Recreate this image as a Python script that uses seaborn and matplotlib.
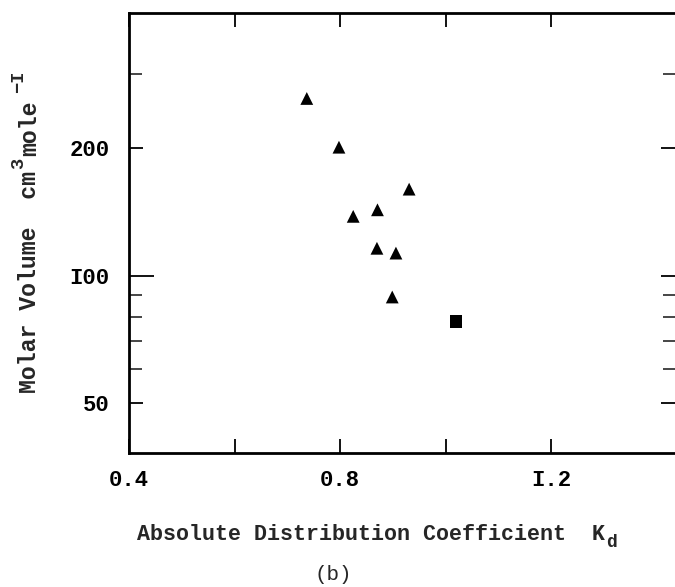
import matplotlib
matplotlib.use('Agg')
import matplotlib.pyplot as plt
import seaborn as sns
import pandas as pd
from matplotlib.ticker import FixedLocator, FixedFormatter, NullFormatter

# ---- data ----
kd_triangle = [0.737, 0.798, 0.931, 0.871, 0.825, 0.870, 0.906, 0.899]
vol_triangle = [262, 201, 160, 143, 138, 116, 113, 89]
kd_square = [1.020]
vol_square = [78]

x_tick_values = [0.4, 0.6, 0.8, 1.0, 1.2]
x_tick_labels = ['0.4', '', '0.8', '', 'I.2']
y_tick_values = [50, 100, 200]
y_tick_labels = ['50', 'I00', '200']
y_minor_values = [60, 70, 80, 90, 300]

df = pd.DataFrame({
    'kd': kd_triangle + kd_square,
    'vol': vol_triangle + vol_square,
    'group': ['tri'] * len(kd_triangle) + ['sq'] * len(kd_square),
})

sns.set_style('white')
plt.rcParams['font.family'] = ['Liberation Mono', 'DejaVu Sans Mono']
plt.rcParams['font.weight'] = 'bold'

W, H = 675, 587
fig = plt.figure(figsize=(W / 100, H / 100), dpi=100)
ax = fig.add_axes([129 / W, 1 - 453 / H, (675 - 129) / W, (453 - 13) / H])

sns.scatterplot(data=df, x='kd', y='vol', style='group',
                markers={'tri': '^', 'sq': 's'}, color='black',
                s=85, edgecolor='none', legend=False, ax=ax)

ax.set_yscale('log')
ax.set_xlim(0.4, 1.435)
ax.set_ylim(38.1, 417)

ax.xaxis.set_major_locator(FixedLocator(x_tick_values))
ax.xaxis.set_major_formatter(FixedFormatter(x_tick_labels))
ax.xaxis.set_minor_locator(FixedLocator([]))
ax.yaxis.set_major_locator(FixedLocator(y_tick_values))
ax.yaxis.set_major_formatter(FixedFormatter(y_tick_labels))
ax.yaxis.set_minor_locator(FixedLocator(y_minor_values))
ax.yaxis.set_minor_formatter(NullFormatter())

ax.tick_params(axis='x', which='major', direction='in', length=10, width=1.3,
               top=True, bottom=True, labelsize=16, pad=12, colors='black')
ax.tick_params(axis='y', which='major', direction='in', length=10, width=1.3,
               left=True, right=True, labelsize=16, pad=14, colors='black')
ax.tick_params(axis='y', which='minor', direction='in', length=9, width=1.2,
               left=True, right=True)

# longer tick at 100 on the left
for t, v in zip(ax.yaxis.get_major_ticks(), y_tick_values):
    if v == 100:
        t.tick1line.set_markersize(18)

for sp in ax.spines.values():
    sp.set_color('black')
    sp.set_linewidth(2)
ax.spines['right'].set_visible(False)

ax.set_xlabel('')
ax.set_ylabel('')


def px(x, y):
    return x / W, 1 - y / H


def adv(n, fs):
    # monospace advance (0.6 em) in pixels
    return n * 0.6 * fs * 100 / 72


# ---- x label: "Absolute Distribution Coefficient  K" + subscript d ----
fs_main = 15.6
fs_sub = 13
xl_text = 'Absolute Distribution Coefficient  K'
x0, yb = 137, 540
fig.text(*px(x0, yb), xl_text, ha='left', va='baseline', fontsize=fs_main,
         fontweight='bold')
fig.text(*px(x0 + adv(len(xl_text), fs_main) + 1, yb + 7), 'd', ha='left',
         va='baseline', fontsize=fs_sub, fontweight='bold')

# ---- y label: "Molar Volume  cm" ^3 "mole" ^-I (rotated) ----
fs_y = 16.7
fs_ysup = 13.5
xb, y0 = 36, 393
pieces = [('Molar Volume  cm', fs_y, 0, 1),
          ('3', fs_ysup, 13, 2),
          ('mole', fs_y, 0, 7),
          ('\u2212I', fs_ysup, 13, 0)]
ycur = y0
for txt, fs, off, gap in pieces:
    fig.text(*px(xb - off, ycur), txt, ha='left', va='baseline', rotation=90,
             rotation_mode='anchor', fontsize=fs, fontweight='bold')
    ycur -= adv(len(txt), fs) + gap

fig.text(*px(333, 575), '(b)', ha='center', va='center', fontsize=15,
         fontweight='normal')

fig.savefig('out.png', dpi=100)
